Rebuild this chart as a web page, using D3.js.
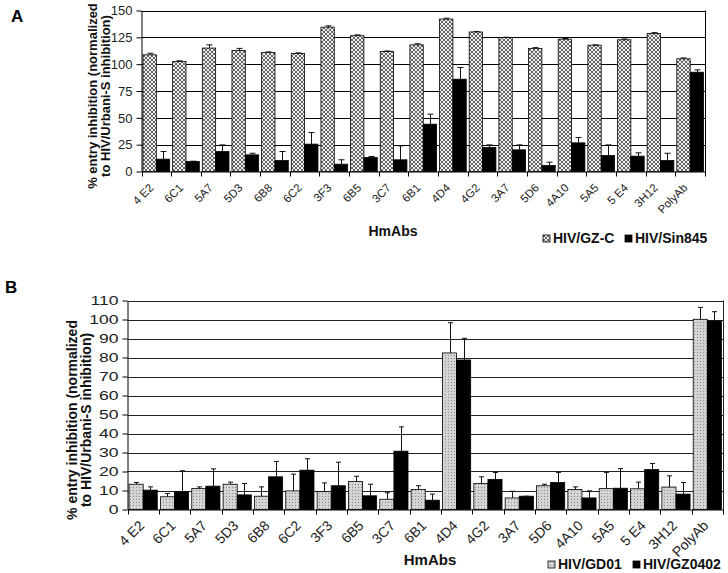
<!DOCTYPE html>
<html><head><meta charset="utf-8">
<script src="https://cdn.jsdelivr.net/npm/d3@7"></script>
<style>body{margin:0;background:#fff}svg{display:block}text{font-family:Arial,"Liberation Sans",sans-serif}</style>
</head><body>
<svg id="c" width="728" height="573"></svg>
<script>
// ---------- DATA ----------
const categories = ["4 E2","6C1","5A7","5D3","6B8","6C2","3F3","6B5","3C7","6B1","4D4","4G2","3A7","5D6","4A10","5A5","5 E4","3H12","PolyAb"];
// Panel A
const seriesA = ["HIV/GZ-C","HIV/Sin845"];
const gzcValues  = [108.7,102.5,115,112.7,110.9,110,134.5,126.5,111.8,118,142,130,124.8,114.6,123.3,117.7,122.7,128.6,105];
const gzcErrors  = [1.5,0.6,3,2,0.5,0.5,1.2,0.8,0.5,1,0.8,0.5,0.3,0.8,0.6,0.3,0.8,0.8,0.8];
const sinValues  = [11.5,9.3,18.6,15.5,10.2,25.5,6.8,13,10.9,44.1,86,22.4,20.2,5.6,26.7,14.9,14.3,10.2,92.5];
const sinErrors  = [7.1,0.3,6.2,1.5,8.4,10.8,4.1,1,13,9.3,10.9,2.4,4.6,3.1,5,9.9,3.1,6.8,2.2];
const ticksA = [0,25,50,75,100,125,150];
// Panel B
const seriesB = ["HIV/GD01","HIV/GZ0402"];
const gd01Values = [13.3,6.7,11,13.3,7,9.8,9.5,14.7,5.4,10.5,82.4,13.7,6.1,12.5,10.5,11,10.9,11.8,100.1];
const gd01Errors = [0.9,1.7,0.9,1.1,4.9,8.8,4.5,2.8,3.4,2,15.9,3.5,3.5,0.8,1.4,8.5,3.5,5.9,6.3];
const gz0402Values = [10.2,9.3,12.3,7.7,17.2,20.7,12.5,7.2,30.7,4.9,78.7,15.8,7,14.2,6.1,11.2,21,8.1,99.2];
const gz0402Errors = [1.7,11.1,9.1,6,8.1,6,12.4,6.1,12.8,3.2,11.4,3.7,0,5.3,3.7,10.4,3.2,6.1,4.9];
const ticksB = [0,10,20,30,40,50,60,70,80,90,100,110];

const svg = d3.select("#c");
const defs = svg.append("defs");
// cross-hatch pattern (panel A)
const pA = defs.append("pattern").attr("id","hatchA").attr("patternUnits","userSpaceOnUse").attr("width",4).attr("height",4);
pA.append("rect").attr("width",4).attr("height",4).attr("fill","#eeeeee");
pA.append("path").attr("d","M0,0L4,4M4,0L0,4M-1,3L1,5M3,-1L5,1").attr("stroke","#666").attr("stroke-width",1);
// stipple pattern (panel B)
const pB = defs.append("pattern").attr("id","dotB").attr("patternUnits","userSpaceOnUse").attr("width",3).attr("height",3);
pB.append("rect").attr("width",3).attr("height",3).attr("fill","#d4d4d4");
pB.append("rect").attr("x",1).attr("y",1).attr("width",1).attr("height",1).attr("fill","#8a8a8a");

function panel(cfg){
  const g = svg.append("g");
  const x = d3.scaleBand().domain(categories).range([cfg.x0,cfg.x1]).paddingInner(0).paddingOuter(0);
  const xs = d3.scaleBand().domain(cfg.series).range([x.bandwidth()*0.05, x.bandwidth()*0.95]);
  const y = d3.scaleLinear().domain([0,cfg.max]).range([cfg.y0,cfg.y1]);
  // gridlines
  g.append("g").selectAll("line").data(cfg.ticks.filter(t=>t>0)).join("line")
    .attr("x1",cfg.x0).attr("x2",cfg.x1).attr("y1",d=>Math.round(y(d))+0.5).attr("y2",d=>Math.round(y(d))+0.5)
    .attr("stroke",cfg.grid).attr("stroke-width",1);
  // right border
  g.append("line").attr("x1",cfg.x1+0.5).attr("x2",cfg.x1+0.5).attr("y1",y(cfg.max)).attr("y2",y(0)).attr("stroke",cfg.grid);
  // bars
  const vals=[cfg.v1,cfg.v2], errs=[cfg.e1,cfg.e2], fills=[cfg.f1,"#000"];
  cfg.series.forEach((s,si)=>{
    const gg=g.append("g");
    gg.selectAll("rect").data(categories).join("rect")
      .attr("x",(d)=>x(d)+xs(s)).attr("width",xs.bandwidth())
      .attr("y",(d,i)=>y(vals[si][i])).attr("height",(d,i)=>y(0)-y(vals[si][i]))
      .attr("fill",fills[si]).attr("stroke","#000").attr("stroke-width",0.8);
    // error bars
    const eb=g.append("g").attr("stroke","#111").attr("stroke-width",1);
    categories.forEach((c,i)=>{
      const cx=Math.round(x(c)+xs(s)+xs.bandwidth()/2)+0.5;
      const top=y(vals[si][i]+errs[si][i]), base=y(vals[si][i]);
      eb.append("line").attr("x1",cx).attr("x2",cx).attr("y1",top).attr("y2",base);
      eb.append("line").attr("x1",cx-cfg.cap).attr("x2",cx+cfg.cap).attr("y1",top).attr("y2",top);
    });
  });
  // y axis
  const ya=g.append("g").attr("transform",`translate(${cfg.x0},0)`)
    .call(d3.axisLeft(y).tickValues(cfg.ticks).tickSize(5).tickSizeOuter(0).tickPadding(cfg.tickPad));
  ya.select(".domain").attr("stroke","#000");
  ya.selectAll(".tick line").attr("stroke","#000");
  ya.selectAll("text").attr("font-size",cfg.yFont).attr("fill","#222").attr("font-family","Arial, Liberation Sans")
    .attr("transform",cfg.yStretch?`scale(${cfg.yStretch},1)`:null)
    .attr("x",function(){return cfg.yStretch? -(5+cfg.tickPad)/cfg.yStretch : -(5+cfg.tickPad);});
  // x axis
  const xa=g.append("g").attr("transform",`translate(0,${cfg.y0})`)
    .call(d3.axisBottom(x).tickSize(0).tickSizeOuter(0).tickFormat(""));
  xa.select(".domain").attr("stroke","#000");
  g.append("g").selectAll("line").data(categories.concat(["_end"])).join("line")
    .attr("x1",(d,i)=>Math.round(cfg.x0+i*x.step())+0.5).attr("x2",(d,i)=>Math.round(cfg.x0+i*x.step())+0.5)
    .attr("y1",cfg.y0).attr("y2",cfg.y0+5).attr("stroke","#000");
  g.append("g").selectAll("text").data(categories).join("text")
    .attr("transform",d=>`translate(${x(d)+x.bandwidth()/2+cfg.lx},${cfg.y0+cfg.ly}) rotate(-45)`)
    .attr("text-anchor","end").attr("font-size",cfg.xFont).attr("fill","#222").text(d=>d);
  // y title
  const yt=g.append("text").attr("transform",`translate(${cfg.tx},${cfg.ty}) rotate(-90)`)
    .attr("text-anchor","middle").attr("font-size",cfg.tFont).attr("font-weight","bold").attr("fill","#111");
  yt.append("tspan").attr("x",0).attr("dy",0).text("% entry inhibition (normalized");
  yt.append("tspan").attr("x",0).attr("dy",cfg.tLine).text("to HIV/Urbani-S inhibition)");
  // x title
  g.append("text").attr("x",cfg.hx).attr("y",cfg.hy).attr("text-anchor","middle").attr("font-size",cfg.hFont)
    .attr("font-weight","bold").attr("fill","#111").text("HmAbs");
  // legend
  cfg.series.forEach((s,si)=>{
    const lx=cfg.legX[si];
    g.append("rect").attr("x",lx).attr("y",cfg.legY-8).attr("width",7).attr("height",7)
      .attr("fill",fills[si]).attr("stroke","#000").attr("stroke-width",0.8);
    g.append("text").attr("x",lx+10).attr("y",cfg.legY).attr("font-size",cfg.legFont).attr("font-weight","bold")
      .attr("fill","#111").text(s);
  });
  // panel letter
  g.append("text").attr("x",cfg.px).attr("y",cfg.py).attr("font-size",17).attr("font-weight","bold").text(cfg.letter);
}

panel({letter:"A",px:11,py:22,x0:141.5,x1:705,y0:171.5,y1:10.5,max:150,ticks:ticksA,
  series:seriesA,v1:gzcValues,e1:gzcErrors,v2:sinValues,e2:sinErrors,f1:"url(#hatchA)",
  grid:"#000",cap:3,tickPad:4,yFont:13,xFont:11.5,lx:-2,ly:17,
  tx:97,ty:96,tFont:13,tLine:12.5,hx:393,hy:236,hFont:14,legX:[543,625],legY:243,legFont:14});

panel({letter:"B",px:5,py:293,x0:127.5,x1:723,y0:509.5,y1:300.5,max:110,ticks:ticksB,
  series:seriesB,v1:gd01Values,e1:gd01Errors,v2:gz0402Values,e2:gz0402Errors,f1:"url(#dotB)",
  grid:"#222",cap:2.5,tickPad:4,yFont:13,yStretch:1.35,xFont:14,lx:2,ly:17,
  tx:77,ty:420,tFont:14,tLine:14,hx:430,hy:565,hFont:15,legX:[548,633],legY:569,legFont:14});
</script>
</body></html>
